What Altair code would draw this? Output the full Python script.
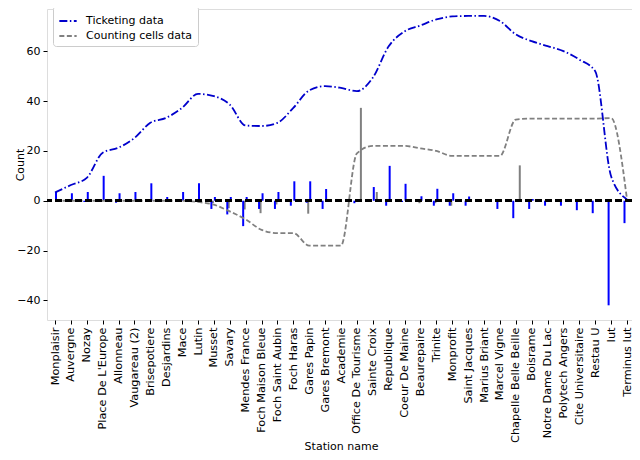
import altair as alt
import pandas as pd

stations = [
    "Monplaisir", "Auvergne", "Nozay", "Place De L'Europe", "Allonneau",
    "Vaugareau (2)", "Brisepotiere", "Desjardins", "Mace", "Lutin", "Musset",
    "Savary", "Mendes France", "Foch Maison Bleue", "Foch Saint Aubin",
    "Foch Haras", "Gares Papin", "Gares Bremont", "Academie",
    "Office De Tourisme", "Sainte Croix", "Republique", "Coeur De Maine",
    "Beaurepaire", "Trinite", "Monprofit", "Saint Jacques", "Marius Briant",
    "Marcel Vigne", "Chapelle Belle Beille", "Boisrame", "Notre Dame Du Lac",
    "Polytech Angers", "Cite Universitaire", "Restau U", "Iut", "Terminus Iut",
]

ticketing_load = [3.3, 6.3, 9.2, 19.3, 21.3, 25.2, 31.3, 33.3, 37.3, 42.9, 42.0,
                  38.6, 30.2, 30.0, 31.3, 37.3, 44.3, 46.0, 45.3, 44.0, 49.4, 62.0,
                  68.0, 70.4, 72.8, 74.0, 74.2, 74.2, 72.2, 66.8, 64.1, 62.1, 60.1,
                  56.7, 52.0, 9.8, 0.5]

cells_load = [0, 0, 0, 0, 0, 0, 0, 0, 0, -0.5, -1.6, -4.3, -7.5, -11.7, -13.0,
              -13.0, -18.0, -18.0, -18.0, 19.0, 22.0, 22.0, 22.0, 21.0, 20.0, 18.0,
              18.0, 18.0, 18.0, 32.6, 33.0, 33.0, 33.0, 33.0, 33.0, 33.2, 0.5]

ticket_board = [3.5, 3.0, 3.5, 10.0, 3.0, 3.5, 7.0, 1.5, 3.5, 7.0, 1.5, 1.5, 1.5,
                3.0, 3.5, 7.8, 7.8, 4.7, 0, 0, 5.5, 14.0, 6.8, 1.8, 4.8, 3.0, 1.7,
                0, 0.5, 0.5, 0.7, 0, 0, 0, 0, 0, 0]

ticket_alight = [0, 0, -0.5, 0, -0.8, 0, -0.5, 0, 0, 0, -3.3, -5.5, -10.2, -3.3,
                 -3.3, -2.0, -0.8, -3.3, -0.5, -1.0, 0, -2.0, -0.5, -0.3, -2.0,
                 -2.0, -2.0, 0, -3.3, -7.0, -3.3, -2.0, -2.0, -3.8, -5.0, -42.0,
                 -9.0]

cells_board = [0, 0, 0, 0, 0, 0, 0, 0, 0, 0, 0, 0, 0, 0, 0, 0, 0, 0, 0, 37.3,
               3.5, 0, 0, 0, 0, 0, 0, 0, 0, 14.2, 0.5, 0, 0, 0, 0, 0, 0]

cells_alight = [0, 0, 0, 0, 0, 0, 0, 0, 0, -0.5, -1.0, -3.0, -3.5, -5.0, -1.5, 0,
                -5.2, 0, 0, 0, 0, 0, 0, -1.0, -1.0, -2.0, 0, 0, 0, 0, 0, 0, 0, 0,
                0, 0, 0]

series_names = ["Ticketing data", "Counting cells data"]

bars = pd.DataFrame({
    "station": stations,
    "tb": ticket_board,
    "ta": ticket_alight,
    "cb": cells_board,
    "ca": cells_alight,
})

lines = pd.concat([
    pd.DataFrame({"station": stations, "value": ticketing_load,
                  "series": series_names[0], "order": list(range(len(stations)))}),
    pd.DataFrame({"station": stations, "value": cells_load,
                  "series": series_names[1], "order": list(range(len(stations)))}),
])

font = "DejaVu Sans"

xenc = alt.X(
    "station:N", sort=stations, title="Station name",
    scale=alt.Scale(type="point", range=[8, 580], padding=0),
    axis=alt.Axis(labelAngle=270, labelAlign="right", labelBaseline="middle",
                  labelPadding=3, tickSize=4, tickColor="black", domain=False,
                  labelColor="black", labelFontSize=11.3, labelFont=font,
                  titleFont=font, titleFontSize=11, titleFontWeight="normal",
                  titleColor="black", grid=False, titleBaseline="bottom",
                  titleY=131, labelOverlap=False),
)

yscale = alt.Scale(domain=[-47.9, 77.0], nice=False, zero=False)
yaxis = alt.Axis(values=[-40, -20, 0, 20, 40, 60], tickSize=4, tickColor="black",
                 domain=False, labelColor="black", labelFontSize=11, labelFont=font,
                 titleFont=font, titleFontSize=11, titleFontWeight="normal",
                 titleColor="black", grid=False, labelPadding=3, titleX=-22)

base = alt.Chart(bars)


def barlayer(field, color, offset):
    return base.mark_bar(width=2, xOffset=offset, color=color).encode(
        x=xenc,
        y=alt.Y(f"{field}:Q", scale=yscale, axis=yaxis, title="Count", stack=None),
    )


gray_a = barlayer("ca", "#808080", -1)
gray_b = barlayer("cb", "#808080", 4)
blue_a = barlayer("ta", "#0000ff", -2.5)
blue_b = barlayer("tb", "#0000ff", 1)

legend_opts = dict(title=None, orient="none", legendX=6, legendY=-3,
                   symbolType="stroke", symbolSize=300, symbolStrokeWidth=1.8,
                   labelFontSize=11, labelFont=font, labelColor="black",
                   rowPadding=0, labelOffset=8, padding=5,
                   strokeColor="#cccccc", fillColor="white", cornerRadius=3)

line_layer = alt.Chart(lines).mark_line(interpolate="monotone", strokeWidth=1.8).encode(
    x=xenc,
    y=alt.Y("value:Q", scale=yscale, axis=yaxis, title="Count"),
    order="order:Q",
    color=alt.Color("series:N", sort=series_names,
                    scale=alt.Scale(domain=series_names, range=["#0000cc", "#808080"]),
                    legend=alt.Legend(**legend_opts)),
    strokeDash=alt.StrokeDash("series:N", sort=series_names,
                              scale=alt.Scale(domain=series_names,
                                              range=[[8, 2.5, 1.5, 2.5], [5, 2.5]]),
                              legend=alt.Legend(**legend_opts)),
)

zero = alt.Chart(bars).mark_rule(color="black", strokeWidth=1.8,
                                 strokeDash=[7, 3]).encode(y=alt.Y(datum=0, scale=yscale))

chart = alt.layer(gray_a, gray_b, blue_a, blue_b, line_layer, zero).properties(
    width=585, height=311,
    autosize=alt.AutoSizeParams(type="none"),
    padding={"left": 39, "top": 1, "right": 0, "bottom": 132},
).configure_view(stroke="black", strokeWidth=1).configure(background="white")

chart.save("out.html", embed_options={"renderer": "svg", "actions": False})
